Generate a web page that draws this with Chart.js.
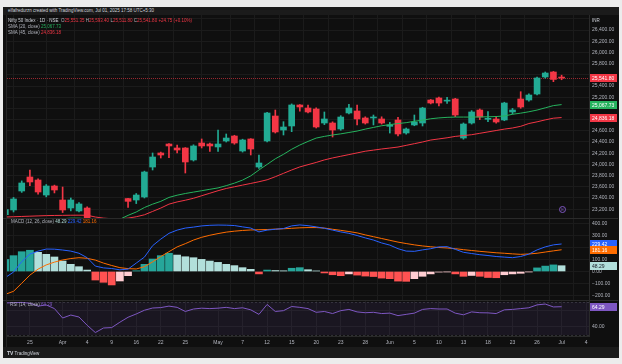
<!DOCTYPE html>
<html>
<head>
<meta charset="utf-8">
<script src="https://cdn.jsdelivr.net/npm/chart.js@4.4.1/dist/chart.umd.min.js"></script>
<style>
  body { margin:0; width:622px; height:364px; background:#ececec; position:relative; overflow:hidden;
         font-family:"Liberation Sans", Arial, sans-serif; }
  .abs { position:absolute; }
  .txt { position:absolute; font-size:4.5px; line-height:6px; white-space:nowrap; color:#b2b5be; }
  canvas { position:absolute; }
</style>
</head>
<body>
<div class="abs" style="left:3px;top:7px;width:616px;height:351px;background:#0f0f0f"></div>
<div class="abs" style="left:3px;top:7px;width:616px;height:8px;background:#1b1b1b"></div>
<div class="abs" style="left:3px;top:347px;width:616px;height:11px;background:#1b1b1b"></div>
<div class="abs" style="left:6px;top:15px;width:1px;height:332px;background:#242424"></div>
<div class="abs" style="left:3px;top:218px;width:615px;height:1px;background:#2a2a2a"></div>
<div class="abs" style="left:3px;top:300px;width:615px;height:1px;background:#2a2a2a"></div>

<canvas id="price" width="615" height="203" style="left:3px;top:15px"></canvas>
<canvas id="macd" width="615" height="81" style="left:3px;top:219px"></canvas>
<canvas id="rsi" width="615" height="46" style="left:3px;top:301px"></canvas>

<div class="txt" style="left:8px;top:8px;color:#d1d4dc">elfafredurzn created with TradingView.com, Jul 01, 2025 17:58 UTC+5:30</div>
<div class="txt" style="left:8px;top:18px;color:#d1d4dc">Nifty 50 Index · 1D · NSE &nbsp;<span style="color:#b2b5be">O</span><span style="color:#f23645">25,551.35</span> <span style="color:#b2b5be">H</span><span style="color:#f23645">25,593.40</span> <span style="color:#b2b5be">L</span><span style="color:#f23645">25,511.80</span> <span style="color:#b2b5be">C</span><span style="color:#f23645">25,541.80 +24.75 (+0.10%)</span></div>
<div class="txt" style="left:8px;top:24px">SMA (20, close) <span style="color:#26b35e">25,067.73</span></div>
<div class="txt" style="left:8px;top:30px">SMA (45, close) <span style="color:#f23645">24,836.18</span></div>
<div class="txt" style="left:592px;top:18px;color:#d1d4dc">INR</div>
<div class="txt" style="left:11px;top:219px">MACD (12, 26, close) <span style="color:#b2dfdb">48.29</span> <span style="color:#2962ff">229.42</span> <span style="color:#ff6d00">181.16</span></div>
<div class="txt" style="left:10px;top:302px">RSI (14, close) <span style="color:#7e57c2">64.29</span></div>
<div class="abs" style="left:559px;top:206px;width:5px;height:5px;border:1px solid #7e57c2;border-radius:50%;font-size:4px;line-height:5px;text-align:center;color:#7e57c2">E</div>
<div class="txt" style="left:7px;top:350px;color:#d1d4dc"><b style="font-size:5px">TV</b> TradingView</div>

<script>
// candle index 0 = 25 Mar 2025, last = 1 Jul 2025
const firstIdx = -3;
const open = [23100, 23186, 23525, 23775, 23721, 23453, 23614, 23364, 23221, 23168, 23221, 21760, 22450, 22460, 22700,
  23390, 23364, 23418, 23953, 24204, 24364, 24293, 24293, 24079, 24382, 24364, 24311, 24418, 24507, 24239, 24454, 23953,
  24418, 24864, 24614, 24686, 25061, 25007, 24989, 24739, 24739, 24632, 24918, 24954, 24829, 24829, 24811, 24680, 24793,
  24561, 24704, 24739, 25150, 25186, 25130, 25168, 24471, 24739, 24971, 24805, 24811, 24793, 24936, 25168, 25150, 25257,
  25561, 25650, 25551.35];
const high = [23220, 23410, 23705, 23900, 23740, 23640, 23630, 23596, 23400, 23320, 23240, 22190, 22700, 22470, 22920,
  23395, 23480, 23880, 24204, 24220, 24370, 24346, 24300, 24350, 24454, 24380, 24614, 24543, 24520, 24450, 24460, 24168,
  24930, 24971, 24763, 25080, 25070, 25060, 25010, 24936, 24760, 24870, 25073, 25061, 24850, 24882, 24850, 24750, 24840,
  24650, 24882, 25020, 25160, 25200, 25199, 25180, 24740, 24960, 24990, 24941, 24860, 25110, 25000, 25298, 25260, 25560,
  25650, 25660, 25593.4];
const low = [23050, 23150, 23500, 23620, 23470, 23420, 23490, 23140, 23170, 23150, 22860, 21740, 22270, 22350, 22690,
  23230, 23300, 23400, 23900, 24114, 24120, 24204, 23846, 24060, 24293, 24230, 24230, 24400, 24360, 24220, 24168, 23930,
  24400, 24560, 24525, 24584, 24950, 24920, 24650, 24710, 24489, 24610, 24900, 24704, 24720, 24704, 24720, 24560, 24507,
  24540, 24690, 24686, 25080, 25043, 25091, 24852, 24450, 24720, 24800, 24763, 24735, 24780, 24900, 25002, 25130, 25240,
  25540, 25477, 25511.8];
const close = [23195, 23382, 23668, 23686, 23507, 23614, 23543, 23186, 23364, 23293, 22904, 22160, 22540, 22400, 22830,
  23340, 23453, 23864, 24132, 24168, 24329, 24257, 24043, 24329, 24329, 24329, 24364, 24471, 24382, 24436, 24275, 24025,
  24918, 24579, 24668, 25061, 25025, 24936, 24668, 24811, 24614, 24846, 25007, 24811, 24739, 24833, 24739, 24705, 24543,
  24632, 24757, 25007, 25096, 25096, 25135, 24882, 24721, 24936, 24846, 24811, 24757, 25096, 24971, 25025, 25239, 25543,
  25632, 25517.05, 25541.8];
const sma20 = [22700, 22770, 22840, 22900, 22950, 22990, 23020, 23030, 23040, 23040, 23030, 22990, 22980, 22990, 23020,
  23090, 23150, 23230, 23290, 23340, 23410, 23450, 23480, 23505, 23530, 23555, 23580, 23620, 23665, 23720, 23795, 23900,
  24000, 24100, 24180, 24270, 24346, 24410, 24470, 24500, 24525, 24545, 24570, 24595, 24630, 24660, 24690, 24710, 24730,
  24745, 24770, 24790, 24815, 24830, 24840, 24845, 24845, 24845, 24847, 24850, 24855, 24865, 24895, 24915, 24940, 24970,
  25010, 25050, 25067.73];
const sma45 = [23060, 23065, 23070, 23075, 23080, 23085, 23088, 23090, 23092, 23093, 23092, 23060, 23040, 23030, 23030,
  23040, 23065, 23100, 23160, 23220, 23290, 23330, 23360, 23395, 23440, 23485, 23530, 23570, 23600, 23630, 23660, 23690,
  23725, 23780, 23840, 23900, 23955, 23995, 24035, 24080, 24115, 24145, 24175, 24205, 24235, 24255, 24275, 24292, 24310,
  24340, 24370, 24400, 24435, 24455, 24475, 24500, 24515, 24530, 24555, 24580, 24605, 24630, 24650, 24680, 24730, 24760,
  24795, 24825, 24836.18];
const macdLine = [-50, -5, 82, 145, 170, 187, 186, 179, 170, 152, 115, 45, 30, 25, 14,
  20, 70, 120, 215, 270, 318, 345, 362, 370, 380, 385, 387, 386, 383, 372, 362, 330,
  345, 352, 358, 380, 388, 382, 372, 360, 345, 330, 318, 300, 280, 262, 238, 220, 190,
  170, 168, 180, 190, 205, 207, 185, 160, 150, 140, 133, 125, 120, 115, 125, 145, 180,
  205, 222, 229.42];
const signalLine = [-190, -165, -98, -30, 20, 55, 78, 96, 108, 115, 110, 95, 70, 50, 32,
  24, 21, 40, 80, 125, 165, 205, 232, 262, 285, 302, 316, 328, 336, 342, 346, 348,
  350, 353, 356, 360, 364, 366, 366, 362, 352, 343, 333, 322, 305, 290, 275, 260, 245,
  233, 222, 213, 206, 200, 196, 190, 182, 175, 168, 162, 156, 152, 147, 143, 146, 152,
  162, 172, 181.16];
const macdHist = [100, 132, 165, 177, 160, 143, 121, 87, 60, 40, 12, -71, -90, -112, -79,
  -35, 6, 60, 104, 132, 152, 137, 123, 115, 101, 87, 76, 60, 49, 32, 18, -20,
  12, 8, 6, 27, 32, 15, 5, -12, -27, -35, -20, -30, -38, -42, -55, -60, -80,
  -82, -60, -40, -20, -5, -3, -20, -40, -33, -40, -50, -52, -27, -20, -15, -3, 30,
  45, 55, 48.29];
const rsi14 = [68.8, 69.2, 69.5, 68.5, 65.0, 66.4, 62.0, 50.6, 54.2, 51.8, 41.8, 33.0, 38.5, 39.0, 45.5,
  51.5, 55.5, 60.0, 62.7, 63.2, 65.0, 63.5, 58.5, 61.5, 62.5, 62.0, 62.5, 63.5, 62.0, 63.0, 60.5, 55.0,
  67.0, 58.5, 59.5, 64.5, 63.5, 62.0, 57.5, 58.5, 56.0, 59.5, 61.0, 58.0, 57.0, 57.5, 56.0, 56.5, 53.5,
  55.0, 56.5, 61.0, 62.0, 61.5, 61.5, 56.5, 54.5, 58.0, 57.0, 56.8, 56.0, 60.5, 61.0, 62.0, 63.0, 66.5,
  67.5, 64.0, 64.29];
const tickIdx = [0, 4, 7, 10, 13, 16, 19, 23, 26, 29, 32, 35, 38, 41, 44, 47, 50, 53, 56, 59, 62, 65, 68];
const tickText = ['25', 'Apr', '4', '9', '16', '22', '25', 'May', '7', '12', '15', '20', '23', '28',
  'Jun', '5', '10', '13', '18', '23', '26', 'Jul', '4'];
const priceTicks = [23200, 23400, 23600, 23800, 24000, 24200, 24400, 24600, 24800, 25000, 25200, 25400,
  25600, 25800, 26000, 26200, 26400, 26600];
const macdTicks = [-200, -100, 0, 100, 200, 300, 400];
const rsiTicks = [40, 60];

const FONT = '"Liberation Sans", Arial, sans-serif';
const GRID = '#1b1b1b';
const AXIS = '#2a2a2a';
const TXT = '#b2b5be';
const UP = '#22ab94', DOWN = '#f23645';

const last = close.length - 1;
const idx = close.map((_, i) => firstIdx + i);
const candleColor = close.map((c, i) => c >= open[i] ? UP : DOWN);
const histColor = macdHist.map((h, i) => {
  const prev = i > 0 ? macdHist[i - 1] : h;
  if (h >= 0) return h >= prev ? '#26a69a' : '#b2dfdb';
  return h < prev ? '#ff5252' : '#ffcdd2';
});

function fmt(v) {
  const s = Math.abs(v).toLocaleString('en-US', {minimumFractionDigits: 2, maximumFractionDigits: 2});
  return v < 0 ? '\u2212' + s : s;
}
function pts(arr) { return idx.map((x, i) => ({x: x, y: arr[i]})); }

// price tags on the right axis
const tagPlugin = {
  id: 'tags',
  afterDraw(chart, args, opts) {
    const ctx = chart.ctx, y = chart.scales.y, area = chart.chartArea;
    (opts.list || []).forEach(t => {
      const py = Math.round(y.getPixelForValue(t.value));
      ctx.save();
      ctx.fillStyle = t.bg;
      ctx.fillRect(area.right + 1, py - 4, 27, 8);
      ctx.fillStyle = t.fg;
      ctx.font = '5px ' + FONT;
      ctx.textBaseline = 'middle';
      ctx.fillText(t.text, area.right + 3, py + 0.5);
      ctx.restore();
    });
  }
};

// dotted last-price line and RSI band
const guidePlugin = {
  id: 'guides',
  beforeDatasetsDraw(chart, args, opts) {
    const ctx = chart.ctx, y = chart.scales.y, a = chart.chartArea;
    ctx.save();
    if (opts.band) {
      const y1 = y.getPixelForValue(opts.band[1]), y0 = y.getPixelForValue(opts.band[0]);
      ctx.fillStyle = 'rgba(126,87,194,0.10)';
      ctx.fillRect(a.left, y1, a.right - a.left, y0 - y1);
      ctx.strokeStyle = 'rgba(120,123,134,0.3)';
      ctx.setLineDash([2, 2]);
      ctx.lineWidth = 1;
      [opts.band[0], opts.band[1]].forEach(v => {
        const py = Math.round(y.getPixelForValue(v)) + 0.5;
        ctx.beginPath(); ctx.moveTo(a.left, py); ctx.lineTo(a.right, py); ctx.stroke();
      });
    }
    if (opts.priceLine !== undefined) {
      const py = Math.round(y.getPixelForValue(opts.priceLine)) + 0.5;
      ctx.strokeStyle = 'rgba(242,54,69,0.6)';
      ctx.setLineDash([1, 1]);
      ctx.lineWidth = 1;
      ctx.beginPath(); ctx.moveTo(a.left, py); ctx.lineTo(a.right, py); ctx.stroke();
    }
    ctx.restore();
  }
};

function xScale(showLabels) {
  return {
    type: 'linear', min: -2.8, max: 68.35, offset: false,
    grid: {color: GRID, drawTicks: false},
    border: {display: showLabels, color: AXIS},
    ticks: {
      display: showLabels, autoSkip: false, maxRotation: 0, padding: 4,
      color: TXT, font: {size: 5, family: FONT},
      callback: (v, i) => tickText[i]
    },
    afterBuildTicks: s => { s.ticks = tickIdx.map(v => ({value: v})); },
    afterFit: s => { s.height = showLabels ? 11 : 0; s.paddingLeft = 0; s.paddingRight = 0; }
  };
}

function yScale(min, max, ticks, paneH, tags, maxLabel) {
  const tol = 6 * (max - min) / paneH;
  return {
    type: 'linear', position: 'right', min: min, max: max,
    grid: {color: GRID, drawTicks: false},
    border: {color: AXIS},
    ticks: {
      autoSkip: false, padding: 3,
      color: TXT, font: {size: 5, family: FONT},
      callback: v => {
        if (maxLabel !== undefined && v > maxLabel) return '';
        if (tags.some(t => Math.abs(t.value - v) < tol)) return '';
        return fmt(v);
      }
    },
    afterBuildTicks: s => { s.ticks = ticks.map(v => ({value: v})); },
    afterFit: s => { s.width = 29; s.paddingTop = 0; s.paddingBottom = 0; }
  };
}

function baseOptions(scales, plugins) {
  return {
    responsive: false, animation: false, devicePixelRatio: 1,
    layout: {padding: {left: 4, right: 0, top: 0, bottom: 0}},
    plugins: Object.assign({legend: {display: false}, tooltip: {enabled: false}}, plugins),
    scales: scales
  };
}

// price pane
const priceTags = [
  {value: close[last], bg: DOWN, fg: '#ffffff', text: fmt(close[last])},
  {value: sma20[last], bg: '#26b35e', fg: '#ffffff', text: fmt(sma20[last])},
  {value: sma45[last], bg: '#f23645', fg: '#ffffff', text: fmt(sma45[last])}
];
new Chart(document.getElementById('price'), {
  type: 'bar',
  data: {
    datasets: [
      {type: 'bar', data: idx.map((x, i) => ({x: x, y: [low[i], high[i]]})), backgroundColor: candleColor,
       barThickness: 1, grouped: false, order: 3, clip: 0},
      {type: 'bar', data: idx.map((x, i) => ({x: x, y: [open[i], close[i]]})), backgroundColor: candleColor,
       barThickness: 6, minBarLength: 1, grouped: false, order: 2, clip: 0},
      {type: 'line', data: pts(sma20), borderColor: '#26b35e', borderWidth: 1, pointRadius: 0, order: 1, clip: 0},
      {type: 'line', data: pts(sma45), borderColor: '#f23645', borderWidth: 1, pointRadius: 0, order: 1, clip: 0}
    ]
  },
  options: baseOptions({x: xScale(false), y: yScale(23042.6, 26668, priceTicks, 203, priceTags, 26400)},
                       {tags: {list: priceTags}, guides: {priceLine: close[last]}}),
  plugins: [tagPlugin, guidePlugin]
});

// MACD pane
const macdTags = [
  {value: macdLine[last], bg: '#2962ff', fg: '#ffffff', text: fmt(macdLine[last])},
  {value: signalLine[last], bg: '#ff6d00', fg: '#ffffff', text: fmt(signalLine[last])},
  {value: macdHist[last], bg: '#b2dfdb', fg: '#131722', text: fmt(macdHist[last])}
];
new Chart(document.getElementById('macd'), {
  type: 'bar',
  data: {
    datasets: [
      {type: 'bar', data: pts(macdHist), backgroundColor: histColor, barThickness: 7, grouped: false, order: 3, clip: 0},
      {type: 'line', data: pts(signalLine), borderColor: '#ff6d00', borderWidth: 1, pointRadius: 0, order: 2, clip: 0},
      {type: 'line', data: pts(macdLine), borderColor: '#2962ff', borderWidth: 1, pointRadius: 0, order: 1, clip: 0}
    ]
  },
  options: baseOptions({x: xScale(false), y: yScale(-237.5, 437.5, macdTicks, 81, macdTags.slice(0, 2))},
                       {tags: {list: macdTags}}),
  plugins: [tagPlugin]
});

// RSI pane with the time axis
const rsiTags = [{value: rsi14[last], bg: '#7e57c2', fg: '#ffffff', text: fmt(rsi14[last])}];
new Chart(document.getElementById('rsi'), {
  type: 'line',
  data: {
    datasets: [
      {data: pts(rsi14), borderColor: '#7e57c2', borderWidth: 1, pointRadius: 0, clip: 0}
    ]
  },
  options: baseOptions({x: xScale(true), y: yScale(28.8, 71.2, rsiTicks, 35, rsiTags)},
                       {tags: {list: rsiTags}, guides: {band: [30, 70]}}),
  plugins: [tagPlugin, guidePlugin]
});
</script>
</body>
</html>
